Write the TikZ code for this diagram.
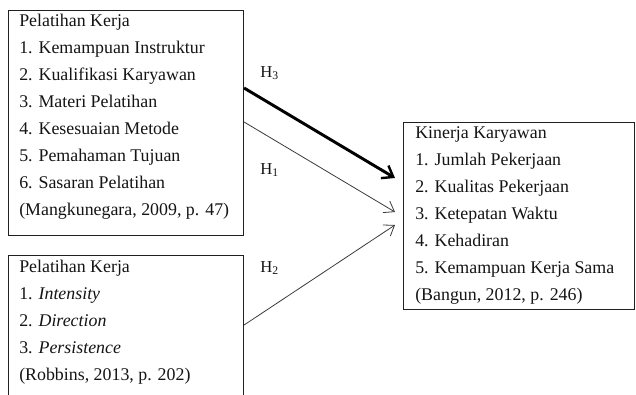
\documentclass[tikz,border=0pt]{standalone}
\usepackage{fontspec}
\setmainfont{Liberation Serif}
\usepackage{xcolor}
\usetikzlibrary{arrows.meta,positioning}
\definecolor{fwInk}{HTML}{141414}
\definecolor{fwLine}{HTML}{202020}
\definecolor{fwArrow}{HTML}{3A3A3A}
\tikzset{
  fwbox/.style={draw=fwLine, line width=0.8pt, anchor=north west, inner sep=0pt},
  fwitem/.style={font=\fontsize{13.4}{15}\selectfont, text=fwInk, anchor=base west, inner sep=0pt},
  fwhyp/.style={font=\fontsize{12.5}{14}\selectfont, text=fwInk, anchor=base west, inner sep=0pt},
  fwthin/.style={-{Straight Barb[length=7pt, width=10pt]}, line width=0.6pt, fwArrow},
  fwthick/.style={-{Straight Barb[length=7.5pt, width=11pt, line width=1.8pt]}, line width=2.2pt, black}
}
\begin{document}
\begin{tikzpicture}[x=0.75pt, y=-0.75pt]
  \useasboundingbox (0,0) rectangle (636,394);
  \clip (0,0) rectangle (636,394);
  % boxes
  \node[fwbox, minimum width=176.25pt, minimum height=168.75pt] (kerjaA) at (8,10) {};
  \node[fwbox, minimum width=176.25pt, minimum height=135pt] (kerjaB) at (8,255) {};
  \node[fwbox, minimum width=173.25pt, minimum height=140.25pt] (kinerja) at (403,122) {};
  % contents
  \foreach \t [count=\i from 0] in {Pelatihan Kerja, 1. Kemampuan Instruktur, 2. Kualifikasi Karyawan,
      3. Materi Pelatihan, 4. Kesesuaian Metode, 5. Pemahaman Tujuan, 6. Sasaran Pelatihan,
      {(Mangkunegara, 2009, p. 47)}}
    \node[fwitem] (kerjaA-\i) at (19,26+27*\i) {\t};
  \foreach \t [count=\i from 0] in {Pelatihan Kerja, 1. \textit{Intensity}, 2. \textit{Direction},
      3. \textit{Persistence}, {(Robbins, 2013, p. 202)}}
    \node[fwitem] (kerjaB-\i) at (19,272+27*\i) {\t};
  \foreach \t [count=\i from 0] in {Kinerja Karyawan, 1. Jumlah Pekerjaan, 2. Kualitas Pekerjaan,
      3. Ketepatan Waktu, 4. Kehadiran, 5. Kemampuan Kerja Sama, {(Bangun, 2012, p. 246)}}
    \node[fwitem] (kinerja-\i) at (415,138+27*\i) {\t};
  % hypotheses
  \node[fwhyp] (h3) at (260,77) {H\textsubscript{3}};
  \node[fwhyp] (h1) at (260,174) {H\textsubscript{1}};
  \node[fwhyp] (h2) at (260,272) {H\textsubscript{2}};
  \coordinate (h3a) at ([yshift=-58.5pt]kerjaA.north east);
  \coordinate (h1a) at ([yshift=-84pt]kerjaA.north east);
  \coordinate (h2a) at ([yshift=-52.5pt]kerjaB.north east);
  \coordinate (h3b) at ([xshift=-6pt, yshift=-42pt]kinerja.north west);
  \coordinate (h1b) at ([xshift=-6pt, yshift=-67.5pt]kinerja.north west);
  \coordinate (h2b) at ([xshift=-6pt, yshift=-77.25pt]kinerja.north west);
  \draw[fwthick] (h3a) -- (h3b);
  \draw[fwthin] (h1a) -- (h1b);
  \draw[fwthin] (h2a) -- (h2b);
\end{tikzpicture}
\end{document}
